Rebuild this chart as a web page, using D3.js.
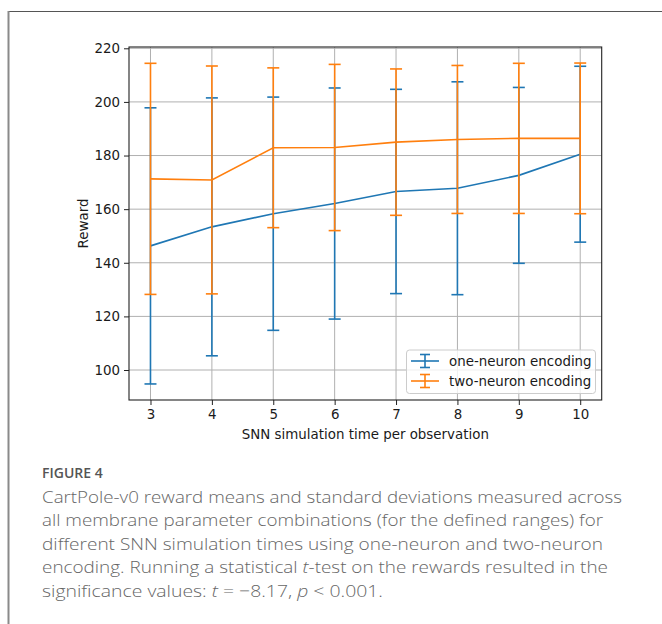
<!DOCTYPE html>
<html><head><meta charset="utf-8">
<script src="https://cdn.jsdelivr.net/npm/d3@7"></script>
<style>
html,body{margin:0;padding:0;background:#fff;}
svg{display:block;}
</style></head>
<body>
<script>
const simTimes = [3, 4, 5, 6, 7, 8, 9, 10];
const oneNeuronMean = [146.3, 153.4, 158.3, 162.1, 166.6, 167.8, 172.6, 180.5];
const oneNeuronStd  = [51.5, 48.1, 43.5, 43.1, 38.1, 39.7, 32.8, 32.8];
const twoNeuronMean = [171.3, 170.9, 182.9, 183.0, 185.0, 186.0, 186.4, 186.4];
const twoNeuronStd  = [43.1, 42.5, 29.8, 31.0, 27.3, 27.6, 28.0, 28.1];
const yTicks = [100, 120, 140, 160, 180, 200, 220];
const seriesNames = ["one-neuron encoding", "two-neuron encoding"];
const seriesColors = ["#1f77b4", "#ff7f0e"];
const xLabel = "SNN simulation time per observation";
const yLabel = "Reward";

const W = 662, H = 624;
const svg = d3.select("body").append("svg").attr("width", W).attr("height", H);

// outer frame
svg.append("line").attr("x1", 8).attr("x2", W).attr("y1", 11.5).attr("y2", 11.5)
  .attr("stroke", "#555").attr("stroke-width", 1.2);
svg.append("line").attr("x1", 8.5).attr("x2", 8.5).attr("y1", 11).attr("y2", H)
  .attr("stroke", "#8a8a8a").attr("stroke-width", 2);

const L = 129, R = 601.7, T = 47, B = 400;
const series = [
  {name: seriesNames[0], color: seriesColors[0], mean: oneNeuronMean, std: oneNeuronStd},
  {name: seriesNames[1], color: seriesColors[1], mean: twoNeuronMean, std: twoNeuronStd}
];
const allLo = d3.min(series, s => d3.min(s.mean, (m, i) => m - s.std[i]));
const allHi = d3.max(series, s => d3.max(s.mean, (m, i) => m + s.std[i]));
const yPad = (allHi - allLo) * 0.05;
const xMin = d3.min(simTimes), xMax = d3.max(simTimes), xPad = (xMax - xMin) * 0.05;

const x = d3.scaleLinear().domain([xMin - xPad, xMax + xPad]).range([L, R]);
const y = d3.scaleLinear().domain([allLo - yPad, allHi + yPad]).range([B, T]);

const font = "DejaVu Sans, sans-serif";
const g = svg.append("g");

// grid
g.selectAll(".gx").data(simTimes).join("line")
  .attr("x1", d => x(d)).attr("x2", d => x(d)).attr("y1", T).attr("y2", B)
  .attr("stroke", "#b0b0b0").attr("stroke-width", 1);
g.selectAll(".gy").data(yTicks).join("line")
  .attr("x1", L).attr("x2", R).attr("y1", d => y(d)).attr("y2", d => y(d))
  .attr("stroke", "#b0b0b0").attr("stroke-width", 1);

// axes
const xAxis = d3.axisBottom(x).tickValues(simTimes).tickSize(5).tickPadding(4).tickFormat(d3.format("d"));
const yAxis = d3.axisLeft(y).tickValues(yTicks).tickSize(5).tickPadding(4).tickFormat(d3.format("d"));
const gx = svg.append("g").attr("transform", `translate(0,${B})`).call(xAxis);
const gy = svg.append("g").attr("transform", `translate(${L},0)`).call(yAxis);
[gx, gy].forEach(a => {
  a.select(".domain").remove();
  a.selectAll(".tick line").attr("stroke", "#222").attr("stroke-width", 1);
  a.selectAll(".tick text").attr("font-family", font).attr("font-size", 13.4).attr("fill", "#1a1a1a");
});

// series
series.forEach(s => {
  const sg = svg.append("g");
  const line = d3.line().x((d, i) => x(simTimes[i])).y(d => y(d));
  sg.append("path").attr("d", line(s.mean)).attr("fill", "none")
    .attr("stroke", s.color).attr("stroke-width", 1.6);
  sg.selectAll(".bar").data(s.mean).join("line")
    .attr("x1", (d, i) => x(simTimes[i])).attr("x2", (d, i) => x(simTimes[i]))
    .attr("y1", (d, i) => y(d - s.std[i])).attr("y2", (d, i) => y(d + s.std[i]))
    .attr("stroke", s.color).attr("stroke-width", 1.6);
  ["lo", "hi"].forEach(k => {
    sg.selectAll(".cap" + k).data(s.mean).join("line")
      .attr("x1", (d, i) => x(simTimes[i]) - 6).attr("x2", (d, i) => x(simTimes[i]) + 6)
      .attr("y1", (d, i) => y(k === "lo" ? d - s.std[i] : d + s.std[i]))
      .attr("y2", (d, i) => y(k === "lo" ? d - s.std[i] : d + s.std[i]))
      .attr("stroke", s.color).attr("stroke-width", 1.6);
  });
});

// frame
svg.append("rect").attr("x", L).attr("y", T).attr("width", R - L).attr("height", B - T)
  .attr("fill", "none").attr("stroke", "#222").attr("stroke-width", 1.1);

// labels
svg.append("text").attr("x", (L + R) / 2).attr("y", 439).attr("text-anchor", "middle")
  .attr("font-family", font).attr("font-size", 13.4).attr("fill", "#1a1a1a").text(xLabel);
svg.append("text").attr("transform", `translate(88,${(T + B) / 2}) rotate(-90)`)
  .attr("text-anchor", "middle").attr("font-family", font).attr("font-size", 13.4)
  .attr("fill", "#1a1a1a").text(yLabel);

// legend
const lg = svg.append("g");
lg.append("rect").attr("x", 406.5).attr("y", 350).attr("width", 189).attr("height", 43.5)
  .attr("rx", 3).attr("fill", "#fff").attr("fill-opacity", 0.8)
  .attr("stroke", "#cccccc").attr("stroke-width", 1);
series.forEach((s, i) => {
  const cy = 361 + i * 20, cx = 425;
  lg.append("line").attr("x1", cx - 14).attr("x2", cx + 14).attr("y1", cy).attr("y2", cy)
    .attr("stroke", s.color).attr("stroke-width", 1.6);
  lg.append("line").attr("x1", cx).attr("x2", cx).attr("y1", cy - 6.5).attr("y2", cy + 6.5)
    .attr("stroke", s.color).attr("stroke-width", 1.6);
  [-6.5, 6.5].forEach(o => lg.append("line").attr("x1", cx - 5).attr("x2", cx + 5)
    .attr("y1", cy + o).attr("y2", cy + o).attr("stroke", s.color).attr("stroke-width", 1.6));
  lg.append("text").attr("x", 449).attr("y", cy + 4.7).attr("font-family", font)
    .attr("font-size", 13.4).attr("fill", "#1a1a1a").text(s.name);
});

// caption
const capFont = "'Open Sans', Lato, sans-serif";
svg.append("text").attr("x", 42).attr("y", 478).attr("font-family", capFont)
  .attr("font-size", 14).attr("font-weight", 600).attr("fill", "#555").text("FIGURE 4");
const capLines = [
  ["CartPole-v0 reward means and standard deviations measured across", 580],
  ["all membrane parameter combinations (for the defined ranges) for", 561],
  ["different SNN simulation times using one-neuron and two-neuron", 561],
  ["encoding. Running a statistical |t|-test on the rewards resulted in the", 566],
  ["significance values: |t| = \u22128.17, |p| < 0.001.", 341]
];
capLines.forEach((c, i) => {
  const t = svg.append("text").attr("x", 42).attr("y", 502.5 + i * 23.5)
    .attr("font-family", capFont).attr("font-size", 17).attr("font-weight", 300)
    .attr("fill", "#666").attr("textLength", c[1]).attr("lengthAdjust", "spacingAndGlyphs");
  c[0].split("|").forEach((part, j) => {
    t.append("tspan").attr("font-style", j % 2 ? "italic" : null).text(part);
  });
});
</script>
</body></html>
